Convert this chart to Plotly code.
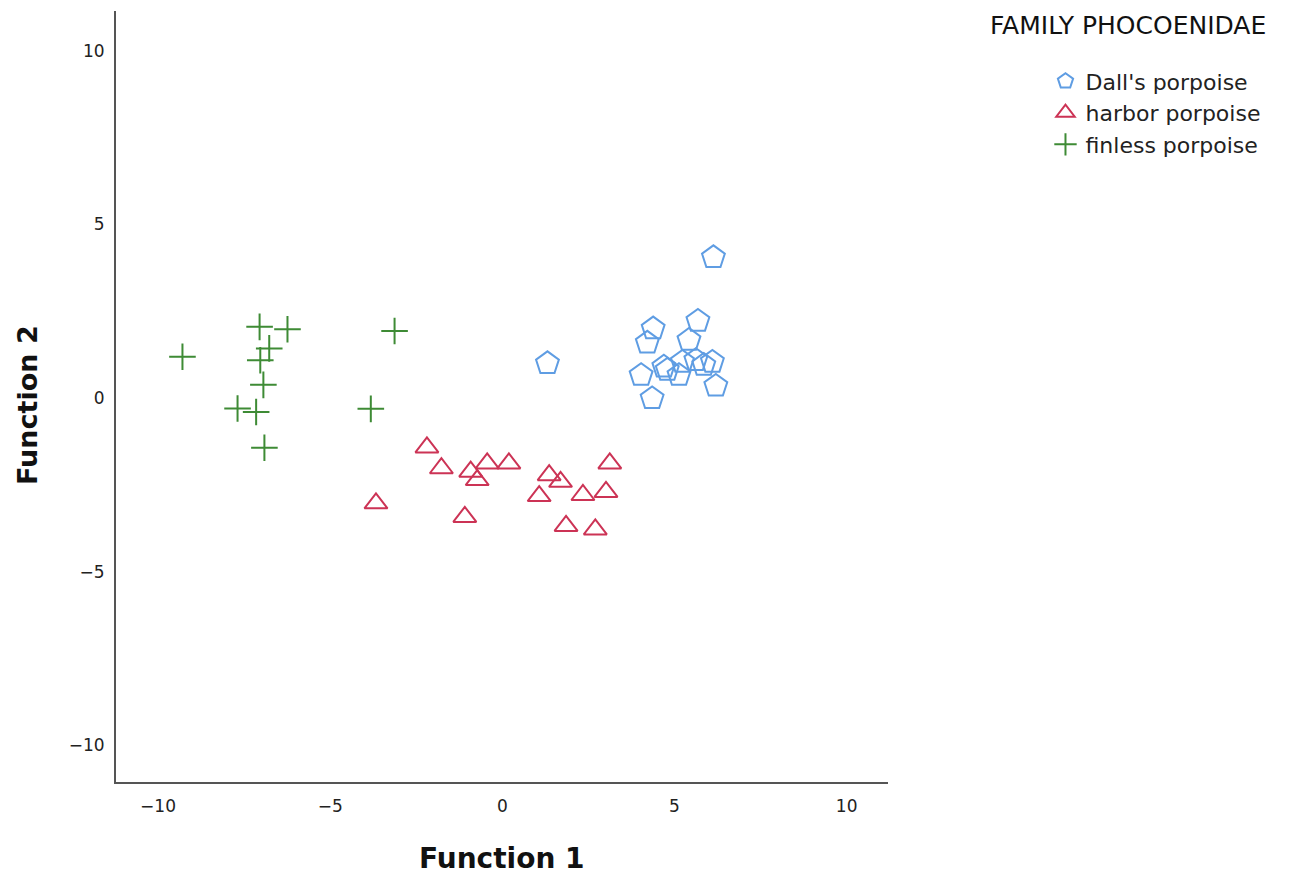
import plotly.graph_objects as go

# Data
dall_x = [6.13, 1.31, 5.68, 4.38, 4.21, 5.42, 4.03, 4.69, 4.79, 5.23, 5.62, 6.10, 5.13, 4.35, 6.20, 5.85]
dall_y = [4.05, 1.00, 2.22, 2.00, 1.59, 1.67, 0.66, 0.90, 0.81, 1.04, 1.09, 1.04, 0.66, -0.01, 0.35, 0.95]

harbor_x = [-2.19, -1.77, -0.44, -0.92, -0.73, 0.19, -3.67, -1.09, 1.36, 1.69, 1.07, 2.34, 3.01, 3.12, 1.85, 2.70]
harbor_y = [-1.42, -2.02, -1.88, -2.12, -2.36, -1.88, -3.03, -3.42, -2.22, -2.41, -2.82, -2.79, -2.70, -1.88, -3.68, -3.78]

finless_x = [-9.29, -7.05, -6.24, -6.77, -7.03, -6.94, -7.69, -7.15, -6.91, -3.13, -3.82]
finless_y = [1.19, 2.05, 1.98, 1.43, 1.09, 0.38, -0.30, -0.40, -1.43, 1.93, -0.31]

x_ticks = [-10, -5, 0, 5, 10]
y_ticks = [-10, -5, 0, 5, 10]

FONT = "DejaVu Sans"
PLOT_L, PLOT_R, PLOT_T, PLOT_B = 116, 888, 11, 782
PW, PH = PLOT_R - PLOT_L, PLOT_B - PLOT_T

fig = go.Figure()
fig.add_trace(go.Scatter(
    x=dall_x, y=dall_y, mode="markers", name="Dall's porpoise",
    marker=dict(symbol="pentagon-open", size=24, color="#5F9DE3", line=dict(width=2, color="#5F9DE3")),
))
fig.add_trace(go.Scatter(
    x=harbor_x, y=harbor_y, mode="markers", name="harbor porpoise",
    marker=dict(symbol="triangle-up-open", size=20, color="#CC3355", line=dict(width=2, color="#CC3355")),
))
fig.add_trace(go.Scatter(
    x=finless_x, y=finless_y, mode="markers", name="finless porpoise",
    marker=dict(symbol="cross-thin-open", size=19, color="#3E8B35", line=dict(width=2, color="#3E8B35")),
))

fig.update_layout(
    width=1300, height=874,
    margin=dict(l=PLOT_L, r=1300 - PLOT_R, t=PLOT_T, b=874 - PLOT_B),
    paper_bgcolor="white", plot_bgcolor="white",
    font=dict(family=FONT, color="#000000"),
    showlegend=True,
    legend=dict(
        x=1.204, xanchor="left", y=0.936, yanchor="top",
        font=dict(family=FONT, size=22, color="#222222"),
        tracegroupgap=0, itemsizing="trace",
        bgcolor="rgba(0,0,0,0)",
    ),
    xaxis=dict(
        range=[-11.22, 11.2], tickvals=x_ticks, ticktext=["\u221210", "\u22125", "0", "5", "10"],
        showgrid=False, zeroline=False, showline=True, linecolor="#555555", linewidth=2,
        ticks="", tickfont=dict(family=FONT, size=17, color="#222222"), automargin=False,
        ticklabelstandoff=8,
    ),
    yaxis=dict(
        range=[-11.05, 11.14], tickvals=y_ticks, ticktext=["\u221210", "\u22125", "0", "5", "10"],
        showgrid=False, zeroline=False, showline=True, linecolor="#555555", linewidth=2,
        ticks="", tickfont=dict(family=FONT, size=17, color="#222222"), ticklabelstandoff=6,
        automargin=False,
    ),
    annotations=[
        dict(text="FAMILY PHOCOENIDAE", xref="paper", yref="paper",
             x=(988 - PLOT_L) / PW, y=(PLOT_B - 25) / PH, xanchor="left", yanchor="middle",
             showarrow=False, font=dict(family=FONT, size=25, color="#111111")),
        dict(text="<b>Function 1</b>", xref="paper", yref="paper",
             x=0.5, y=(PLOT_B - 858) / PH, xanchor="center", yanchor="middle",
             showarrow=False, font=dict(family=FONT, size=28, color="#111111")),
        dict(text="<b>Function 2</b>", xref="paper", yref="paper", textangle=-90,
             x=(28 - PLOT_L) / PW, y=(PLOT_B - 405) / PH, xanchor="center", yanchor="middle",
             showarrow=False, font=dict(family=FONT, size=27, color="#111111")),
    ],
)

fig.write_html("out.html")
